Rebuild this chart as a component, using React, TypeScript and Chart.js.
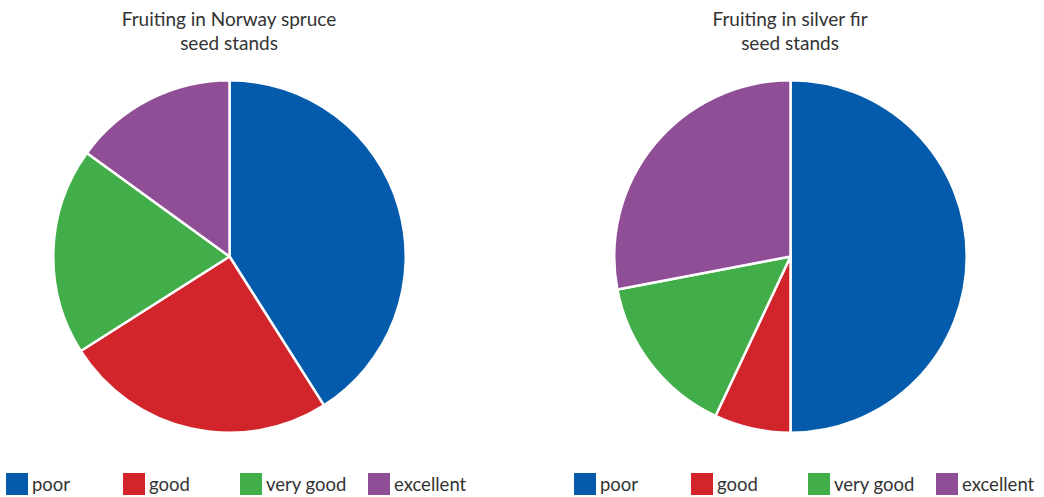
import React, { useEffect, useRef } from "react";
import { Chart, registerables } from "chart.js";

Chart.register(...registerables);

const categories = ["poor", "good", "very good", "excellent"];
const sprucePercent = [41, 25, 19, 15];
const firPercent = [50, 7, 15, 28];
const spruceTitle = ["Fruiting in Norway spruce", "seed stands"];
const firTitle = ["Fruiting in silver fir", "seed stands"];
const sliceColors = ["#045BAB", "#D2242B", "#42AE4A", "#8F4E95"];

const FONT = "Lato, 'Open Sans', sans-serif";
const TEXT = "#333333";
const PIE = 355;
const LEGEND_OFFSETS = [0, 117, 234, 362];

function PiePanel(props: { title: string[]; values: number[]; cx: number; legendX: number }) {
  const ref = useRef<HTMLCanvasElement | null>(null);
  useEffect(() => {
    if (!ref.current) return;
    const chart = new Chart(ref.current, {
      type: "pie",
      data: {
        labels: categories,
        datasets: [
          {
            data: props.values,
            backgroundColor: sliceColors,
            borderColor: "#ffffff",
            borderWidth: 2.5,
          },
        ],
      },
      options: {
        responsive: false,
        animation: false,
        devicePixelRatio: 1,
        events: [],
        layout: { padding: 0 },
        plugins: {
          legend: { display: false },
          tooltip: { enabled: false },
          title: { display: false },
        },
      },
    });
    return () => chart.destroy();
  }, [props.values]);

  return (
    <>
      <div
        style={{
          position: "absolute",
          left: props.cx - 200,
          top: 7,
          width: 400,
          textAlign: "center",
          fontFamily: FONT,
          fontSize: 19,
          lineHeight: "24px",
          color: TEXT,
        }}
      >
        {props.title.map((t, i) => (
          <div key={i}>{t}</div>
        ))}
      </div>
      <canvas
        ref={ref}
        width={PIE}
        height={PIE}
        style={{
          position: "absolute",
          left: props.cx - PIE / 2,
          top: 256.5 - PIE / 2,
          width: PIE,
          height: PIE,
        }}
      />
      {categories.map((c, i) => (
        <div
          key={c}
          style={{
            position: "absolute",
            left: props.legendX + LEGEND_OFFSETS[i],
            top: 473,
            height: 22,
            display: "flex",
            alignItems: "center",
            whiteSpace: "nowrap",
          }}
        >
          <div style={{ width: 22, height: 22, background: sliceColors[i] }} />
          <span
            style={{
              marginLeft: 4,
              fontFamily: FONT,
              fontSize: 18.5,
              lineHeight: "22px",
              color: TEXT,
            }}
          >
            {c}
          </span>
        </div>
      ))}
    </>
  );
}

export default function App() {
  return (
    <div
      style={{
        position: "absolute",
        left: 0,
        top: 0,
        width: 1044,
        height: 497,
        background: "#ffffff",
        overflow: "hidden",
      }}
    >
      <PiePanel title={spruceTitle} values={sprucePercent} cx={229} legendX={6} />
      <PiePanel title={firTitle} values={firPercent} cx={790} legendX={574} />
    </div>
  );
}
